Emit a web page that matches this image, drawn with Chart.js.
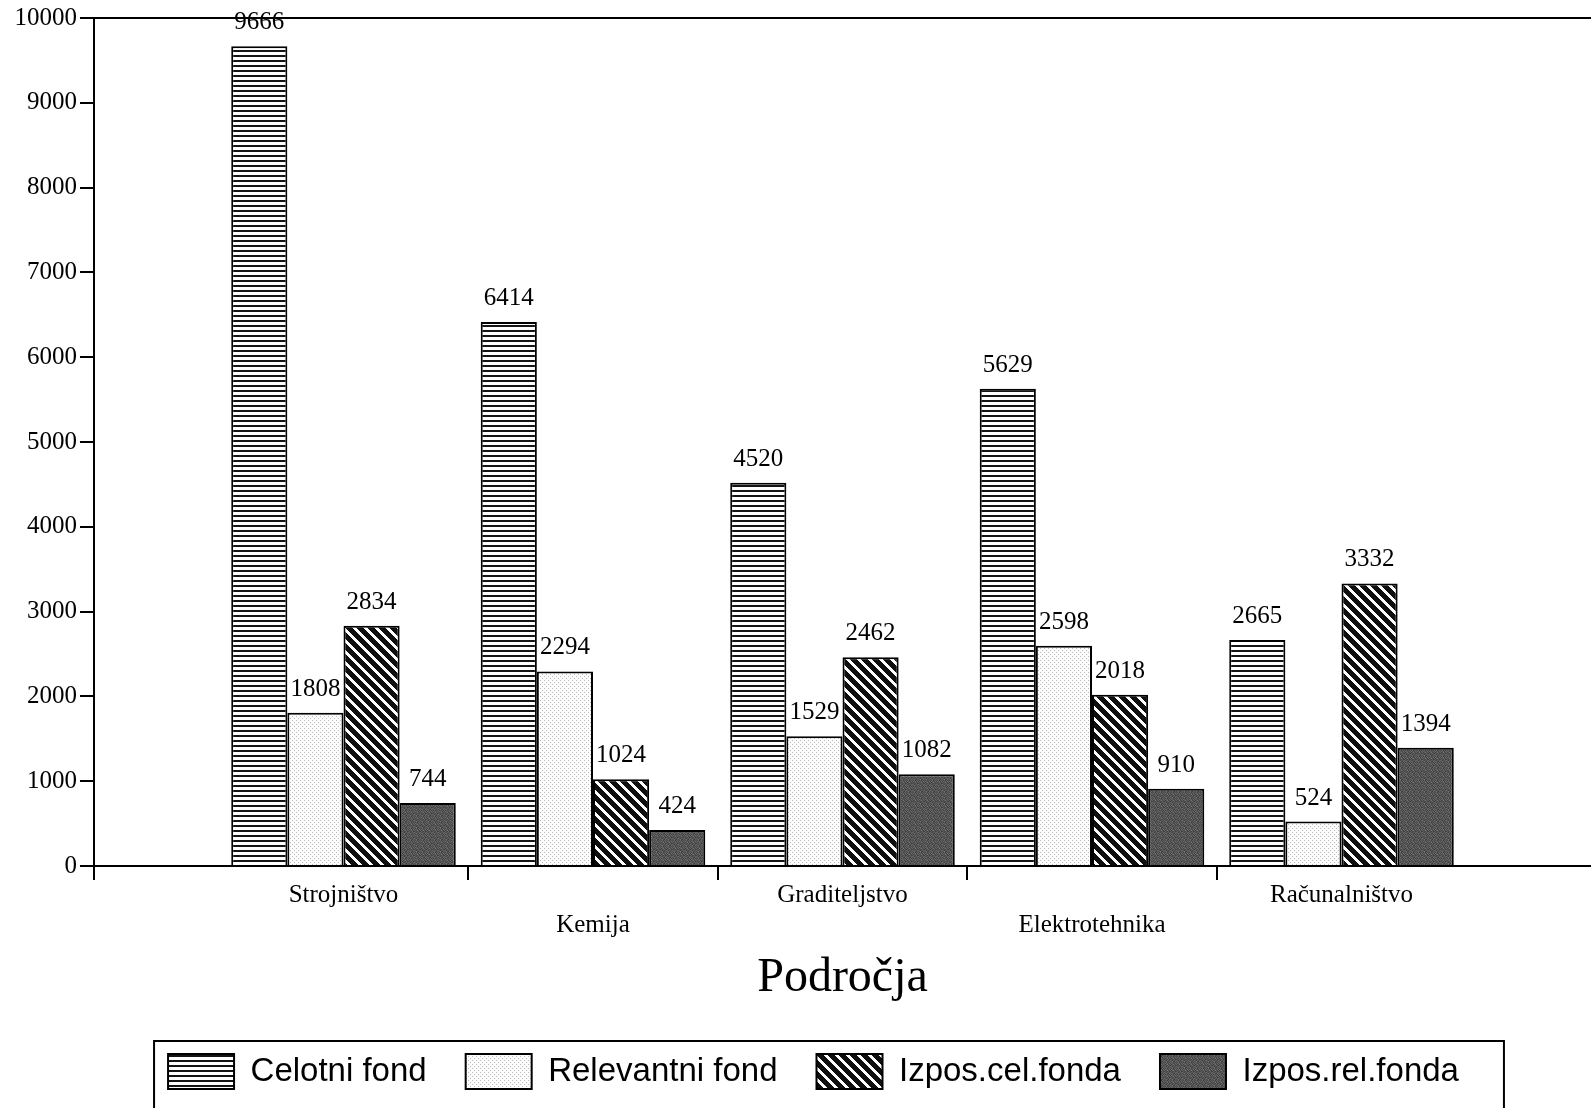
<!DOCTYPE html>
<html><head><meta charset="utf-8">
<script src="https://cdn.jsdelivr.net/npm/chart.js@4.4.1/dist/chart.umd.min.js"></script>
<style>html,body{margin:0;padding:0;background:#fff}#wrap{width:1591px;height:1108px}</style>
</head><body><div id="wrap"><canvas id="c" width="1591" height="1108"></canvas></div>
<script>
// ---- data ----
const categories = ['Strojništvo', 'Kemija', 'Graditeljstvo', 'Elektrotehnika', 'Računalništvo'];
const seriesNames = ['Celotni fond', 'Relevantni fond', 'Izpos.cel.fonda', 'Izpos.rel.fonda'];
const celotniFond    = [9666, 6414, 4520, 5629, 2665];
const relevantniFond = [1808, 2294, 1529, 2598, 524];
const izposCelFonda  = [2834, 1024, 2462, 2018, 3332];
const izposRelFonda  = [744, 424, 1082, 910, 1394];
const yMin = 0, yMax = 10000, yStep = 1000;
const axisTitle = 'Področja';

// ---- patterns ----
const mainCtx = document.getElementById('c').getContext('2d');
function makePattern(w, h, painter) {
  const c = document.createElement('canvas'); c.width = w; c.height = h;
  const g = c.getContext('2d');
  const img = g.createImageData(w, h);
  for (let y = 0; y < h; y++) for (let x = 0; x < w; x++) {
    const v = painter(x, y); const i = (y * w + x) * 4;
    img.data[i] = img.data[i + 1] = img.data[i + 2] = v; img.data[i + 3] = 255;
  }
  g.putImageData(img, 0, 0);
  return mainCtx.createPattern(c, 'repeat');
}
const darkTile = [88,70,102,64,95,78, 72,110,80,92,66,104, 98,62,86,120,74,84,
                  68,94,76,70,100,60, 106,80,64,96,82,90, 76,90,112,72,62,98];
const patterns = [
  makePattern(1, 5, (x, y) => y < 2 ? 20 : 255),
  makePattern(4, 4, (x, y) => ((x === 0 && y === 0) || (x === 2 && y === 2)) ? 185 : 252),
  makePattern(11, 11, (x, y) => ((x - y + 11) % 11) < 4 ? 255 : 15),
  makePattern(6, 6, (x, y) => darkTile[y * 6 + x])
];

// padded axis: empty slot at both ends
const axisLabels = [''].concat(categories, ['']);
const pad = arr => [null].concat(arr, [null]);
const seriesValues = [celotniFond, relevantniFond, izposCelFonda, izposRelFonda];

const serif = "'Liberation Serif', 'Times New Roman', serif";
const legendShift = 18;

const decor = {
  id: 'decor',
  beforeDraw(chart) {
    const L = chart.legend;
    if (L && !L._shifted) {
      L.left += legendShift; L.right += legendShift;
      (L.legendHitBoxes || []).forEach(h => { h.left += legendShift; });
      L._shifted = true;
    }
  },
  afterDatasetsDraw(chart) {
    const ctx = chart.ctx;
    ctx.save();
    ctx.font = '25px ' + serif;
    ctx.fillStyle = '#000';
    ctx.textAlign = 'center';
    ctx.textBaseline = 'alphabetic';
    chart.data.datasets.forEach((ds, di) => {
      const meta = chart.getDatasetMeta(di);
      meta.data.forEach((bar, i) => {
        const v = ds.data[i];
        if (v === null || v === undefined) return;
        ctx.fillText(String(v), bar.x, bar.y - 17);
      });
    });
    ctx.restore();
  },
  afterDraw(chart) {
    const ctx = chart.ctx; const xs = chart.scales.x; const area = chart.chartArea;
    ctx.save();
    ctx.strokeStyle = '#000'; ctx.lineWidth = 2;
    ctx.beginPath();
    ctx.moveTo(xs.left, area.bottom);
    ctx.lineTo(xs.left, area.bottom + xs.options.grid.tickLength);
    ctx.stroke();
    const hb = chart.legend.legendHitBoxes;
    if (hb && hb.length) {
      const first = hb[0], last = hb[hb.length - 1];
      const l = first.left - 14, r = last.left + last.width + 45, t = first.top - 13;
      ctx.strokeRect(l, t, r - l, chart.height + 20 - t);
    }
    ctx.restore();
  }
};

new Chart(document.getElementById('c'), {
  type: 'bar',
  data: {
    labels: axisLabels,
    datasets: seriesNames.map((name, i) => ({
      label: name,
      data: pad(seriesValues[i]),
      backgroundColor: patterns[i],
      borderColor: '#000',
      borderWidth: 2,
      categoryPercentage: 0.9,
      barPercentage: 1.0
    }))
  },
  options: {
    responsive: false,
    animation: false,
    color: '#000',
    layout: { padding: { top: 16, left: 0, right: 0, bottom: 9 } },
    plugins: {
      tooltip: { enabled: false },
      legend: {
        position: 'bottom',
        labels: {
          boxWidth: 66, boxHeight: 35, padding: 39, color: '#000',
          font: { family: "'Liberation Sans', Arial, sans-serif", size: 33 }
        }
      }
    },
    scales: {
      x: {
        offset: false,
        afterFit: s => { s.height = 149; },
        border: { display: true, color: '#000', width: 2 },
        grid: {
          offset: true, drawOnChartArea: false, drawTicks: true, tickLength: 14, lineWidth: 2,
          color: c => (c.index >= 2 && c.index <= axisLabels.length - 2) ? '#000' : 'rgba(0,0,0,0)',
          tickColor: c => (c.index >= 2 && c.index <= axisLabels.length - 2) ? '#000' : 'rgba(0,0,0,0)'
        },
        ticks: {
          autoSkip: false, maxRotation: 0, minRotation: 0, padding: 0, color: '#000',
          font: { family: serif, size: 25 },
          callback: (v, i) => {
            const name = axisLabels[i];
            if (!name) return '';
            return (i % 2 === 0) ? ['', name] : name;
          }
        },
        title: {
          display: true, text: axisTitle, color: '#000',
          font: { family: serif, size: 48 },
          padding: { top: 0, bottom: 8 }
        }
      },
      y: {
        min: yMin, max: yMax,
        afterFit: s => { s.width = 94; },
        border: { display: true, color: '#000', width: 2 },
        grid: {
          drawOnChartArea: true, drawTicks: true, tickLength: 14, lineWidth: 2,
          color: c => (c.tick && c.tick.value === yMax) ? '#000' : 'rgba(0,0,0,0)',
          tickColor: '#000'
        },
        ticks: {
          stepSize: yStep, padding: 3, color: '#000',
          font: { family: serif, size: 25 },
          callback: v => String(v)
        }
      }
    }
  },
  plugins: [decor]
});
</script>
</body></html>
